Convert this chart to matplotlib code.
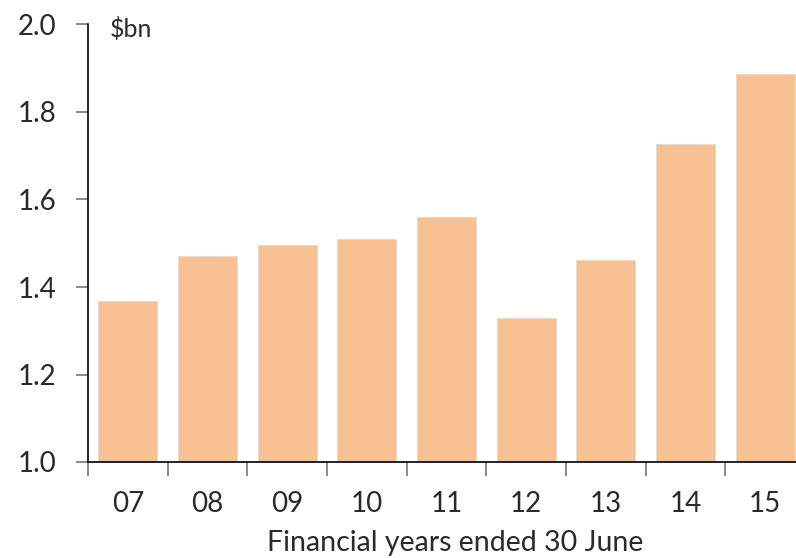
import numpy as np
import matplotlib.pyplot as plt

years = ["07", "08", "09", "10", "11", "12", "13", "14", "15"]
values = [1.367, 1.470, 1.497, 1.509, 1.559, 1.328, 1.461, 1.727, 1.886]

plt.rcParams['font.family'] = ['Lato', 'DejaVu Sans']

fig = plt.figure(figsize=(7.96, 5.58), dpi=100)
# axes runs a bit past the right edge of the figure, as in the original
ax = fig.add_axes([88 / 796, 96 / 558, 717 / 796, 437.5 / 558])

x = np.arange(len(years))
ax.bar(x, [v - 1.0 for v in values], bottom=1.0, width=0.74,
       color="#F8C193", edgecolor="#E2DCD6", linewidth=0.8)

ax.set_xlim(-0.5, len(years) - 0.5)
ax.set_ylim(1.0, 2.0)
ax.set_yticks([1.0, 1.2, 1.4, 1.6, 1.8, 2.0])
ax.set_yticklabels(["1.0", "1.2", "1.4", "1.6", "1.8", "2.0"])
ax.set_xticks(x)
ax.set_xticklabels(years)
ax.set_xticks(np.arange(-0.5, len(years)), minor=True)

ax.tick_params(axis="x", which="major", length=0, pad=21, labelsize=20,
               labelcolor="#2a2a2a")
ax.tick_params(axis="x", which="minor", length=10, width=1.2, color="#777777",
               direction="out")
ax.tick_params(axis="y", length=9, width=1.2, color="#777777", pad=14,
               labelsize=20, labelcolor="#2a2a2a")

for side in ["top", "right"]:
    ax.spines[side].set_visible(False)
ax.spines["left"].set_linewidth(1.2)
ax.spines["bottom"].set_linewidth(1.2)

ax.text(0.03, 0.99, "$bn", transform=ax.transAxes, fontsize=18,
        va="center", ha="left", color="#2a2a2a")
fig.text(455 / 796, 1 - 543 / 558, "Financial years ended 30 June",
         ha="center", va="center", fontsize=20.5, color="#2a2a2a")

fig.savefig("out.png", dpi=100)
